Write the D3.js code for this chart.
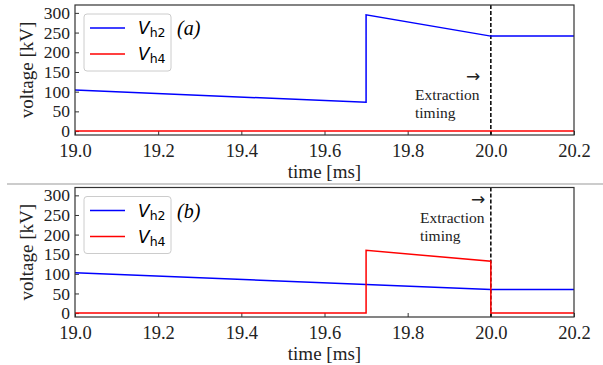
<!DOCTYPE html>
<html>
<head>
<meta charset="utf-8">
<script src="https://cdn.jsdelivr.net/npm/d3@7"></script>
<style>
  body { margin: 0; background: #fff; }
  svg { display: block; }
</style>
</head>
<body>
<svg id="chart" width="603" height="365"></svg>
<script>
// time points (ms) and voltages (kV) for each panel
const timeA = [19.0, 19.7, 19.7, 20.0, 20.2]
const vh2A = [104, 73, 295, 241, 241]
const timeA4 = [19.0, 20.2]
const vh4A = [0, 0]

const timeB = [19.0, 20.0, 20.2]
const vh2B = [103, 60, 60]
const timeB4 = [19.0, 19.7, 19.7, 20.0, 20.0, 20.2]
const vh4B = [0, 0, 160, 132, 0, 0]

const xTicks = [19.0, 19.2, 19.4, 19.6, 19.8, 20.0, 20.2]
const yTicks = [0, 50, 100, 150, 200, 250, 300]
const extraction = 20.0

const svg = d3.select('#chart')
const serif = "'Liberation Serif', 'Times New Roman', Times, 'DejaVu Serif', serif"

const left = 75, right = 574

const drawPanel = (top, bottom, label, series, textPos) => {
  const x = d3.scaleLinear().domain([19.0, 20.2]).range([left, right])
  const y = d3.scaleLinear().domain([-10, 320]).range([bottom, top])
  const g = svg.append('g')

  // axes with inward ticks
  const xAxis = d3.axisBottom(x).tickValues(xTicks).tickFormat(d3.format('.1f'))
    .tickSizeInner(-4).tickSizeOuter(0).tickPadding(9)
  const yAxis = d3.axisLeft(y).tickValues(yTicks)
    .tickSizeInner(-4).tickSizeOuter(0).tickPadding(5)

  const styleAxis = (a, size) => {
    a.attr('font-family', serif).attr('font-size', size)
    a.select('.domain').remove()
    a.selectAll('.tick line').attr('stroke', '#333')
    a.selectAll('.tick text').attr('fill', '#222')
  }
  g.append('g').attr('transform', `translate(0,${bottom})`).call(xAxis).call(styleAxis, 18.5)
  g.append('g').attr('transform', `translate(${left},0)`).call(yAxis).call(styleAxis, 17.5)

  // dashed extraction line
  g.append('line')
    .attr('x1', x(extraction)).attr('x2', x(extraction))
    .attr('y1', top).attr('y2', bottom)
    .attr('stroke', '#000').attr('stroke-width', 1.5)
    .attr('stroke-dasharray', '4,2')

  const line = d3.line().x(d => x(d[0])).y(d => y(d[1]))
  series.forEach(s => {
    g.append('path')
      .attr('d', line(s.t.map((t, i) => [t, s.v[i]])))
      .attr('fill', 'none').attr('stroke', s.color).attr('stroke-width', 1.5)
  })

  // frame
  g.append('rect')
    .attr('x', left).attr('y', top)
    .attr('width', right - left).attr('height', bottom - top)
    .attr('fill', 'none').attr('stroke', '#333').attr('stroke-width', 1.2)

  // legend
  const lg = g.append('g').attr('transform', `translate(84,${top + 9})`)
  lg.append('rect').attr('width', 87).attr('height', 57).attr('rx', 3)
    .attr('fill', '#fff').attr('fill-opacity', 0.8)
    .attr('stroke', '#ccc').attr('stroke-width', 1)
  const names = ['h2', 'h4']
  const colors = ['#0000ff', '#ff0000']
  names.forEach((n, i) => {
    const ly = 14 + i * 26
    lg.append('line').attr('x1', 6).attr('x2', 41).attr('y1', ly).attr('y2', ly)
      .attr('stroke', colors[i]).attr('stroke-width', 1.5)
    const t = lg.append('text').attr('x', 54).attr('y', ly + 6)
      .attr('font-family', "'DejaVu Sans', sans-serif").attr('font-size', 17)
    t.append('tspan').attr('font-style', 'italic').text('V')
    t.append('tspan').attr('font-size', 12.5).attr('dy', 3).text(n)
  })

  g.append('text').attr('x', 177).attr('y', top + 30)
    .attr('font-family', serif).attr('font-size', 20).attr('font-style', 'italic')
    .text(label)

  // annotation
  g.append('text').attr('x', textPos[0] + 58).attr('y', textPos[1] - 18)
    .attr('font-family', "'DejaVu Sans', sans-serif").attr('font-size', 17).attr('fill', '#222')
    .attr('text-anchor', 'middle').text('→')
  g.append('text').attr('x', textPos[0]).attr('y', textPos[1])
    .attr('font-family', serif).attr('font-size', 15.5).attr('fill', '#222')
    .text('Extraction')
  g.append('text').attr('x', textPos[0]).attr('y', textPos[1] + 18)
    .attr('font-family', serif).attr('font-size', 15.5).attr('fill', '#222')
    .text('timing')

  // axis labels
  g.append('text')
    .attr('transform', `translate(33,${(top + bottom) / 2}) rotate(-90)`)
    .attr('text-anchor', 'middle')
    .attr('font-family', serif).attr('font-size', 19).attr('fill', '#222')
    .text('voltage [kV]')
  g.append('text').attr('x', (left + right) / 2).attr('y', bottom + 43)
    .attr('text-anchor', 'middle')
    .attr('font-family', serif).attr('font-size', 19).attr('fill', '#222')
    .text('time [ms]')
}

drawPanel(5, 135, '(a)', [
  { t: timeA4, v: vh4A, color: '#ff0000' },
  { t: timeA, v: vh2A, color: '#0000ff' }
], [415, 100])

// separator
svg.append('line').attr('x1', 7).attr('x2', 603).attr('y1', 184).attr('y2', 184)
  .attr('stroke', '#ccc').attr('stroke-width', 2)

drawPanel(187.5, 317, '(b)', [
  { t: timeB, v: vh2B, color: '#0000ff' },
  { t: timeB4, v: vh4B, color: '#ff0000' }
], [420, 223])
</script>
</body>
</html>
